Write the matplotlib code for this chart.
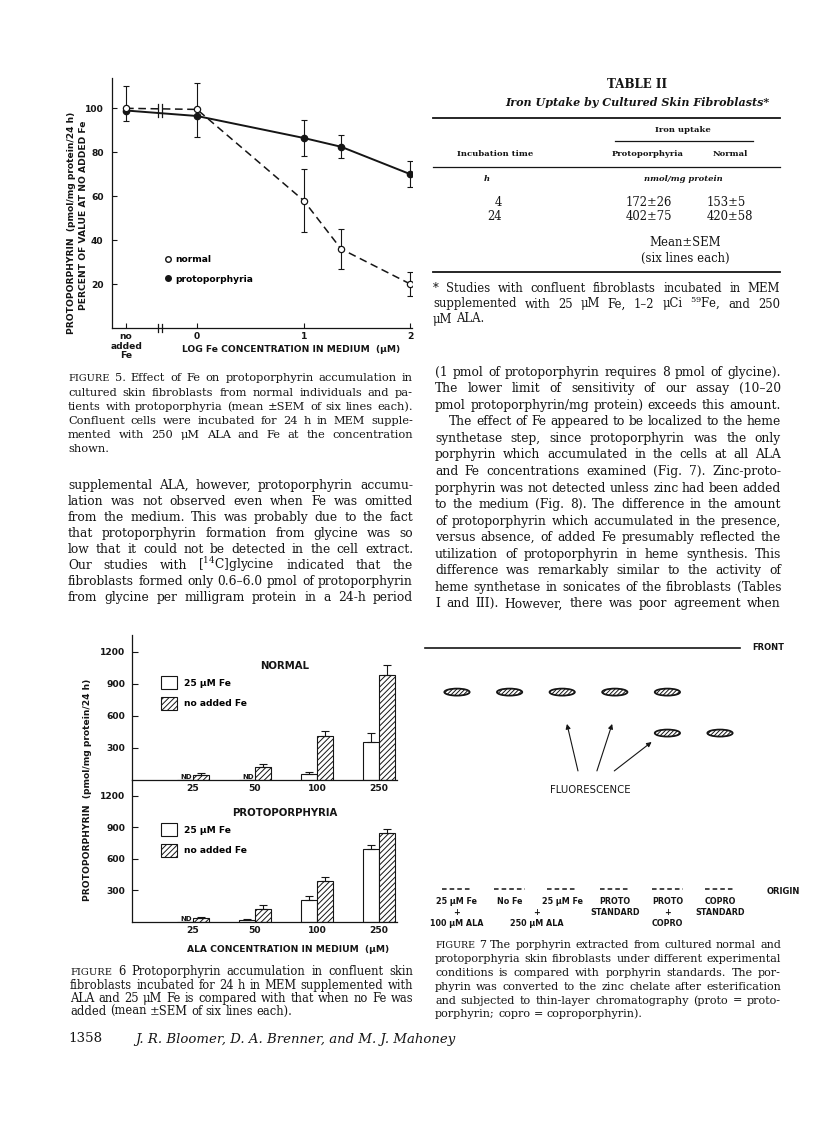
import numpy as np
import matplotlib
matplotlib.use("Agg")
import matplotlib.pyplot as plt
from matplotlib.lines import Line2D
from matplotlib.patches import Ellipse

plt.rcParams["hatch.linewidth"] = 0.7
plt.rcParams["mathtext.fontset"] = "dejavuserif"

W, H = 816, 1127
SERIF = "DejaVu Serif"
SANS = "DejaVu Sans"
INK = "#151515"

# ---------------- Figure 5 data (percent of value at no added Fe)
fe_labels = ["no\nadded\nFe", "0", "1", "2"]
log_fe = [0, 1, 1.35, 2]
normal_pct = [100, 99.5, 58, 36, 20]
normal_up = [10, 12, 14.5, 9, 5.3]
normal_dn = [0, 0, 14.5, 9, 5.3]
proto_pct = [99, 96.5, 86.5, 82.5, 70]
proto_up = [0, 0, 8, 5.3, 5.8]
proto_dn = [5, 9.5, 8, 5.3, 5.8]

# ---------------- Figure 6 data (pmol/mg protein/24 h), nan = not detected
ala = ["25", "50", "100", "250"]
normal_fe = [np.nan, np.nan, 54, 353]
normal_fe_err = [0, 0, 25, 88]
normal_nofe = [44, 123, 416, 980]
normal_nofe_err = [22, 28, 44, 97]
proto_fe = [np.nan, 16, 206, 690]
proto_fe_err = [0, 9, 35, 43]
proto_nofe = [32, 124, 387, 842]
proto_nofe_err = [12, 38, 41, 44]

# ---------------- Figure 7 data (thin-layer chromatography)
lane_top = ["25 μM Fe", "No Fe", "25 μM Fe", "PROTO", "PROTO", "COPRO"]
lane_mid = ["+", "", "", "STANDARD", "+", "STANDARD"]
lane_bot = ["100 μM ALA", "", "", "", "COPRO", ""]
proto_spot = [1, 1, 1, 1, 1, 0]
copro_spot = [0, 0, 0, 0, 1, 1]
rf_proto = 0.817
rf_copro = 0.647

# ---------------- Table II
inc_time = ["4", "24"]
uptake_proto = ["172±26", "402±75"]
uptake_normal = ["153±5", "420±58"]

fig = plt.figure(figsize=(W / 100, H / 100), dpi=100)
renderer = fig.canvas.get_renderer()


def P(x, y):
    return x / W, 1 - y / H


def rect(x0, y0, x1, y1):
    return [x0 / W, 1 - y1 / H, (x1 - x0) / W, (y1 - y0) / H]


def txt(x, y, s, **kw):
    kw.setdefault("color", INK)
    return fig.text(*P(x, y), s, **kw)


def hline(x0, x1, y, lw=0.8):
    fig.add_artist(Line2D([x0 / W, x1 / W], [1 - y / H, 1 - y / H], color=INK, lw=lw))


def width_of(s, **kw):
    t = fig.text(0, 0, s, **kw)
    w = t.get_window_extent(renderer).width
    t.remove()
    return w


def para(lines, x0, x1, y0, dy, size, last=None, indent=None, style="normal",
         small=("FIGURE",)):
    # justified serif text block; 'last' = indices of lines set ragged
    last = last or []
    indent = indent or {}

    def widths(sz):
        out = []
        for line in lines:
            ws = []
            for w in line.split():
                s = sz * 0.86 if w in small else sz
                ws.append(width_of(w, family=SERIF, size=s, style=style))
            out.append(ws)
        return out

    ww = widths(size)
    avail = x1 - x0
    sp = size * 0.3 * 100 / 72
    ratio = max((sum(w) + sp * (len(w) - 1) + indent.get(i, 0)) / (avail * 0.985)
                for i, w in enumerate(ww))
    if ratio > 1:
        size = size / ratio
        ww = widths(size)
        sp = size * 0.3 * 100 / 72
    em = size * 100 / 72
    for i, line in enumerate(lines):
        words = line.split()
        ws = ww[i]
        xs = x0 + indent.get(i, 0)
        room = x1 - xs
        if i in last or len(words) == 1:
            gap = sp
        else:
            gap = (room - sum(ws)) / (len(words) - 1)
        yb = y0 + i * dy + 0.3 * em
        x = xs
        for w, wd in zip(words, ws):
            s = size * 0.86 if w in small else size
            txt(x, yb, w, family=SERIF, size=s, style=style, va="baseline", ha="left")
            x += wd + gap


# =============== FIGURE 5 =================
NOFE_X = -0.665
ax5 = fig.add_axes(rect(112, 78, 412, 328))
ax5.set_xlim(-0.797, 2.015)
ax5.set_ylim(0, 113.8)
xs5 = [NOFE_X] + log_fe
ax5.plot(xs5, normal_pct, color=INK, lw=1.1, ls=(0, (5, 3)), zorder=2)
ax5.plot(xs5, proto_pct, color=INK, lw=1.4, zorder=2)
ax5.errorbar(xs5, normal_pct, yerr=[normal_dn, normal_up], fmt="none", ecolor=INK,
             elinewidth=0.8, capsize=2.5, capthick=0.8, zorder=3)
ax5.errorbar(xs5, proto_pct, yerr=[proto_dn, proto_up], fmt="none", ecolor=INK,
             elinewidth=0.8, capsize=2.5, capthick=0.8, zorder=3)
ax5.plot(xs5, proto_pct, "o", ms=4.5, mfc=INK, mec=INK, ls="none", zorder=4)
ax5.plot(xs5, normal_pct, "o", ms=4.5, mfc="white", mec=INK, mew=0.9, ls="none", zorder=5)
# break marks on the x axis and on the lines
for bx in (-0.368, -0.332):
    ax5.plot([bx, bx], [-1.8, 1.8], color=INK, lw=0.9, clip_on=False)
    ax5.plot([bx, bx], [96.2, 101.8], color=INK, lw=0.9)
for sp in ("top", "right"):
    ax5.spines[sp].set_visible(False)
for sp in ("left", "bottom"):
    ax5.spines[sp].set_linewidth(0.9)
    ax5.spines[sp].set_color(INK)
ax5.set_yticks([20, 40, 60, 80, 100])
ax5.set_xticks([NOFE_X] + [0, 1, 2])
ax5.set_xticklabels(fe_labels, linespacing=1.05)
ax5.tick_params(direction="in", length=3.5, width=0.8, colors=INK)
ax5.tick_params(axis="y", pad=6)
ax5.tick_params(axis="x", pad=3)
for lab in ax5.get_xticklabels() + ax5.get_yticklabels():
    lab.set_fontfamily(SANS)
    lab.set_fontweight("bold")
    lab.set_fontsize(6.6)
h_norm = Line2D([], [], marker="o", ms=4, mfc="white", mec=INK, ls="none")
h_prot = Line2D([], [], marker="o", ms=4, mfc=INK, mec=INK, ls="none")
leg5 = ax5.legend([h_norm, h_prot], ["normal", "protoporphyria"], loc="upper left",
                  bbox_to_anchor=(0.178, 0.292), frameon=False, handlelength=0.6,
                  handletextpad=0.5, labelspacing=1.15, borderpad=0, borderaxespad=0,
                  prop={"family": SANS, "weight": "bold", "size": 6.6})
txt(72, 223, "PROTOPORPHYRIN  (pmol/mg protein/24 h)", family=SANS, weight="bold",
    size=6.6, rotation=90, ha="center", va="center")
txt(83, 215, "PERCENT OF VALUE AT NO ADDED Fe", family=SANS, weight="bold",
    size=6.6, rotation=90, ha="center", va="center")
txt(291, 349, "LOG Fe CONCENTRATION IN MEDIUM  (μM)", family=SANS, weight="bold",
    size=6.6, ha="center", va="center")

para(["FIGURE 5.  Effect of Fe on protoporphyrin accumulation in",
      "cultured skin fibroblasts from normal individuals and pa-",
      "tients with protoporphyria (mean ±SEM of six lines each).",
      "Confluent cells were incubated for 24 h in MEM supple-",
      "mented with 250 μM ALA and Fe at the concentration",
      "shown."], 68, 413, 378, 14.2, 8.2, last=[5])

para(["supplemental ALA, however, protoporphyrin accumu-",
      "lation was not observed even when Fe was omitted",
      "from the medium. This was probably due to the fact",
      "that protoporphyrin formation from glycine was so",
      "low that it could not be detected in the cell extract.",
      "Our studies with [$^{14}$C]glycine indicated that the",
      "fibroblasts formed only 0.6–6.0 pmol of protoporphyrin",
      "from glycine per milligram protein in a 24-h period"],
     68, 413, 485, 16.0, 9.4)

# =============== TABLE II =================
txt(637, 85, "TABLE II", family=SERIF, weight="bold", size=8.6, ha="center", va="center")
txt(637, 102, "Iron Uptake by Cultured Skin Fibroblasts*", family=SERIF, weight="bold",
    style="italic", size=8.0, ha="center", va="center")
hline(433, 780, 118, lw=1.3)
txt(683, 130, "Iron uptake", family=SERIF, size=6.0, weight="bold", ha="center", va="center")
hline(615, 753, 141, lw=0.9)
txt(495, 154, "Incubation time", family=SERIF, size=6.0, weight="bold", ha="center", va="center")
txt(648, 154, "Protoporphyria", family=SERIF, size=6.0, weight="bold", ha="center", va="center")
txt(730, 154, "Normal", family=SERIF, size=6.0, weight="bold", ha="center", va="center")
hline(433, 780, 167, lw=0.9)
txt(487, 179, "h", family=SERIF, size=6.0, style="italic", weight="bold", ha="center", va="center")
txt(683, 179, "nmol/mg protein", family=SERIF, size=6.0, style="italic", weight="bold",
    ha="center", va="center")
for i, (t, a, b) in enumerate(zip(inc_time, uptake_proto, uptake_normal)):
    yy = 202 + 15 * i
    txt(502, yy, t, family=SERIF, size=8.4, ha="right", va="center")
    txt(626, yy, a, family=SERIF, size=8.4, ha="left", va="center")
    txt(707, yy, b, family=SERIF, size=8.4, ha="left", va="center")
txt(685, 243, "Mean±SEM", family=SERIF, size=8.4, ha="center", va="center")
txt(685, 258, "(six lines each)", family=SERIF, size=8.4, ha="center", va="center")
hline(433, 780, 272, lw=1.3)
para(["* Studies with confluent fibroblasts incubated in MEM",
      "supplemented with 25 μM Fe, 1–2 μCi $^{59}$Fe, and 250",
      "μM ALA."], 433, 780, 289, 15.0, 8.4, last=[2])

para(["(1 pmol of protoporphyrin requires 8 pmol of glycine).",
      "The lower limit of sensitivity of our assay (10–20",
      "pmol protoporphyrin/mg protein) exceeds this amount.",
      "The effect of Fe appeared to be localized to the heme",
      "synthetase step, since protoporphyrin was the only",
      "porphyrin which accumulated in the cells at all ALA",
      "and Fe concentrations examined (Fig. 7). Zinc-proto-",
      "porphyrin was not detected unless zinc had been added",
      "to the medium (Fig. 8). The difference in the amount",
      "of protoporphyrin which accumulated in the presence,",
      "versus absence, of added Fe presumably reflected the",
      "utilization of protoporphyrin in heme synthesis. This",
      "difference was remarkably similar to the activity of",
      "heme synthetase in sonicates of the fibroblasts (Tables",
      "I and III). However, there was poor agreement when"],
     435, 781, 372, 16.55, 9.4, indent={3: 14})

# =============== FIGURE 6 =================
x6 = np.arange(len(ala))
bw = 0.26
panels = [
    (rect(132, 635, 397, 780), 635, 145.0, (0, 1359), "NORMAL", normal_fe, normal_fe_err,
     normal_nofe, normal_nofe_err, 666),
    (rect(132, 780, 397, 921.7), 780, 141.7, (0, 1350), "PROTOPORPHYRIA", proto_fe,
     proto_fe_err, proto_nofe, proto_nofe_err, 813),
]
for r, top_px, h_px, yl, name, fe, fe_err, nofe, nofe_err, ty in panels:
    ax = fig.add_axes(r)
    ax.set_xlim(-0.984, 3.29)
    ax.set_ylim(*yl)
    fe_v = np.nan_to_num(np.array(fe, dtype=float))
    b1 = ax.bar(x6 - bw / 2, fe_v, bw, color="white", edgecolor=INK, lw=0.8)
    b2 = ax.bar(x6 + bw / 2, nofe, bw, color="white", edgecolor=INK, lw=0.8,
                hatch="//////")
    ax.errorbar(x6 - bw / 2, fe_v, yerr=[np.zeros(4), fe_err], fmt="none", ecolor=INK,
                elinewidth=0.8, capsize=2.8, capthick=0.8)
    ax.errorbar(x6 + bw / 2, nofe, yerr=[np.zeros(4), nofe_err], fmt="none", ecolor=INK,
                elinewidth=0.8, capsize=2.8, capthick=0.8)
    for xi, v in zip(x6, fe):
        if np.isnan(v):
            ax.text(xi - 0.02, 0, "ND", ha="right", va="bottom", family=SANS,
                    weight="bold", size=5.0, color=INK)
    for sp in ("top", "right"):
        ax.spines[sp].set_visible(False)
    for sp in ("left", "bottom"):
        ax.spines[sp].set_linewidth(0.9)
        ax.spines[sp].set_color(INK)
    ax.set_yticks([300, 600, 900, 1200])
    ax.set_xticks(x6)
    ax.set_xticklabels(ala)
    ax.tick_params(axis="y", direction="in", length=4, width=0.8, pad=5, colors=INK)
    ax.tick_params(axis="x", length=0, pad=3, colors=INK)
    for lab in ax.get_xticklabels() + ax.get_yticklabels():
        lab.set_fontfamily(SANS)
        lab.set_fontweight("bold")
        lab.set_fontsize(6.6)
    ax.patch.set_alpha(0)
    ax.legend([b1, b2], ["25 μM Fe", "no added Fe"], loc="upper left",
              bbox_to_anchor=(0.109, 1 - (ty + 10 - top_px) / h_px),
              frameon=False, handlelength=1.75, handleheight=1.85, handletextpad=0.75,
              labelspacing=0.8, borderpad=0, borderaxespad=0,
              prop={"family": SANS, "weight": "bold", "size": 6.6})
    txt(285, ty, name, family=SANS, weight="bold", size=7.3, ha="center", va="center")

txt(87, 790, "PROTOPORPHYRIN  (pmol/mg protein/24 h)", family=SANS, weight="bold",
    size=6.6, rotation=90, ha="center", va="center")
txt(288, 949, "ALA CONCENTRATION IN MEDIUM  (μM)", family=SANS, weight="bold",
    size=6.6, ha="center", va="center")

para(["FIGURE 6  Protoporphyrin accumulation in confluent skin",
      "fibroblasts incubated for 24 h in MEM supplemented with",
      "ALA and 25 μM Fe is compared with that when no Fe was",
      "added (mean ±SEM of six lines each)."], 70, 413, 972, 13.3, 8.4, last=[3])

txt(68, 1039, "1358", family=SERIF, size=9.6, ha="left", va="center")
txt(135, 1039, "J. R. Bloomer, D. A. Brenner, and M. J. Mahoney", family=SERIF,
    style="italic", size=9.5, ha="left", va="center")

# =============== FIGURE 7 =================
ax7 = fig.add_axes(rect(425, 648, 740, 889))
ax7.set_xlim(-0.608, 5.38)
ax7.set_ylim(0, 1)
ax7.axis("off")
ax7.axhline(1, color=INK, lw=1.2, clip_on=False)
lanes = np.arange(len(lane_top))
for i in lanes:
    for present, rf in ((proto_spot[i], rf_proto), (copro_spot[i], rf_copro)):
        if present:
            ax7.add_patch(Ellipse((i, rf), 0.48, 0.029, facecolor="white",
                                  edgecolor=INK, lw=1.3, hatch="////////"))
    ax7.plot([i - 0.29, i + 0.29], [0, 0], color=INK, lw=1.1, ls=(0, (3, 2)),
             clip_on=False)
    for txt_, off in ((lane_top[i], 13), (lane_mid[i], 23.5), (lane_bot[i], 34)):
        if txt_:
            ax7.annotate(txt_, xy=(i, 0), xytext=(0, -off * 0.72), textcoords="offset points",
                         ha="center", va="center", family=SANS, weight="bold", size=5.8,
                         color=INK, annotation_clip=False)
for s, off in (("+", 23.5), ("250 μM ALA", 34)):
    ax7.annotate(s, xy=(1.52, 0), xytext=(0, -off * 0.72), textcoords="offset points",
                 ha="center", va="center", family=SANS, weight="bold", size=5.8,
                 color=INK, annotation_clip=False)
arrow_kw = dict(arrowstyle="-|>", color=INK, lw=0.8, mutation_scale=7,
                shrinkA=0, shrinkB=0)
for tip, tail in (((2.09, 0.685), (2.30, 0.49)), ((2.95, 0.685), (2.66, 0.49)),
                  ((3.70, 0.61), (2.99, 0.49))):
    ax7.annotate("", xy=tip, xytext=tail, arrowprops=arrow_kw)
ax7.text(2.53, 0.41, "FLUORESCENCE", ha="center", va="center", family=SANS,
         size=7.3, color=INK)
txt(752, 648, "FRONT", family=SANS, weight="bold", size=6.0, ha="left", va="center")
txt(767, 891, "ORIGIN", family=SANS, weight="bold", size=6.0, ha="left", va="center")

para(["FIGURE 7  The porphyrin extracted from cultured normal and",
      "protoporphyria skin fibroblasts under different experimental",
      "conditions is compared with porphyrin standards. The por-",
      "phyrin was converted to the zinc chelate after esterification",
      "and subjected to thin-layer chromatography (proto = proto-",
      "porphyrin; copro = coproporphyrin)."], 435, 781, 945, 13.8, 8.4, last=[5])

fig.savefig("out.png", dpi=100, facecolor="white")
